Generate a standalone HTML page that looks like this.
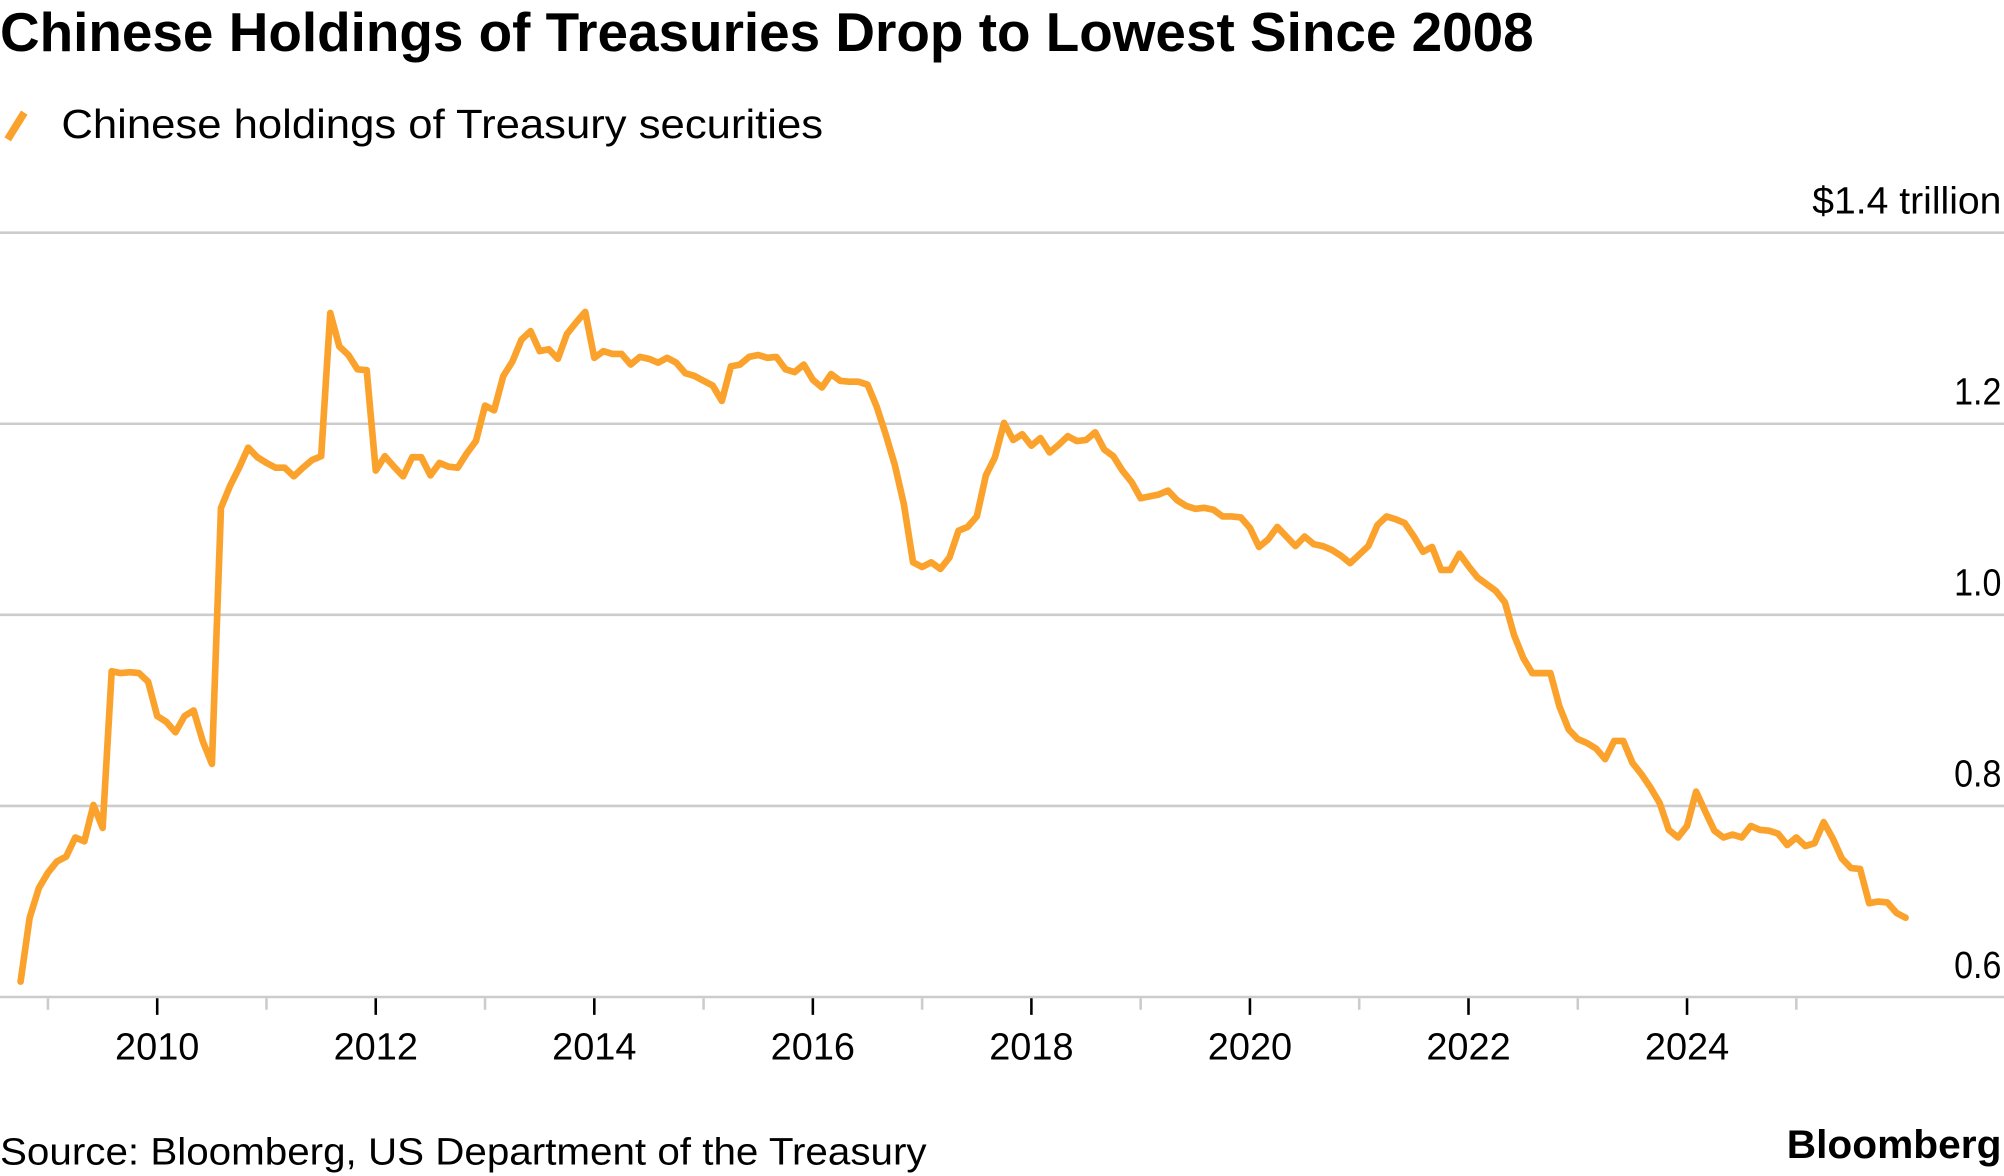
<!DOCTYPE html>
<html><head><meta charset="utf-8"><title>Chinese Holdings of Treasuries</title>
<style>html,body{margin:0;padding:0;background:#fff;}svg{display:block;}</style></head>
<body>
<svg id="chart" width="2004" height="1176" viewBox="0 0 1568 920" xmlns="http://www.w3.org/2000/svg" font-family="'Liberation Sans', sans-serif">
<text x="0" y="40" font-size="43" font-weight="bold" fill="#000" textLength="1200" lengthAdjust="spacingAndGlyphs">Chinese Holdings of Treasuries Drop to Lowest Since 2008</text>
<g>
<line x1="6" y1="109" x2="19" y2="88" stroke="#FBA22D" stroke-width="6"/>
<text x="48" y="108" font-size="32" fill="#000" textLength="596" lengthAdjust="spacingAndGlyphs">Chinese holdings of Treasury securities</text>
</g>
<g id="grid"></g>
<g id="yaxis"></g>
<g id="xaxis"></g>
<g id="series"></g>
<text x="0" y="911" font-size="30" fill="#000" textLength="725" lengthAdjust="spacingAndGlyphs">Source: Bloomberg, US Department of the Treasury</text>
<text x="1566" y="906" font-size="31" font-weight="bold" fill="#000" text-anchor="end" textLength="168" lengthAdjust="spacingAndGlyphs">Bloomberg</text>
</svg>
<script>
const startYear = 2008 + 9/12; // Oct 2008, monthly
const values = [0.616,0.683,0.714,0.730,0.742,0.747,0.767,0.763,0.801,0.777,0.941,0.939,0.940,0.939,0.930,0.894,0.888,0.877,0.894,0.900,0.868,0.844,1.112,1.135,1.154,1.175,1.165,1.159,1.154,1.154,1.145,1.154,1.162,1.166,1.316,1.281,1.272,1.257,1.256,1.151,1.166,1.155,1.145,1.165,1.165,1.146,1.159,1.155,1.154,1.169,1.182,1.219,1.214,1.250,1.265,1.288,1.297,1.276,1.278,1.268,1.294,1.306,1.317,1.269,1.276,1.273,1.273,1.262,1.270,1.268,1.264,1.269,1.264,1.253,1.250,1.245,1.240,1.224,1.260,1.262,1.270,1.272,1.269,1.270,1.257,1.254,1.262,1.246,1.238,1.252,1.245,1.244,1.244,1.241,1.218,1.189,1.157,1.116,1.055,1.050,1.055,1.048,1.060,1.088,1.092,1.103,1.146,1.165,1.201,1.183,1.189,1.177,1.185,1.170,1.178,1.187,1.182,1.183,1.191,1.173,1.166,1.151,1.139,1.122,1.124,1.126,1.130,1.120,1.114,1.111,1.112,1.110,1.103,1.103,1.102,1.091,1.071,1.079,1.092,1.082,1.072,1.082,1.074,1.072,1.068,1.062,1.054,1.063,1.072,1.094,1.103,1.100,1.096,1.082,1.066,1.071,1.047,1.047,1.064,1.051,1.039,1.032,1.025,1.013,0.979,0.955,0.939,0.939,0.939,0.904,0.880,0.870,0.866,0.860,0.849,0.868,0.868,0.845,0.833,0.819,0.803,0.775,0.767,0.779,0.815,0.794,0.774,0.767,0.770,0.767,0.779,0.775,0.774,0.771,0.759,0.767,0.758,0.761,0.783,0.766,0.745,0.735,0.734,0.698,0.700,0.699,0.688,0.683];
const yTicks = [0.6, 0.8, 1.0, 1.2, 1.4];
const yTickLabels = ["0.6", "0.8", "1.0", "1.2", "$1.4 trillion"];
const xTickYears = [2009,2010,2011,2012,2013,2014,2015,2016,2017,2018,2019,2020,2021,2022,2023,2024,2025];
const xLabelYears = [2010,2012,2014,2016,2018,2020,2022,2024];

const NS = "http://www.w3.org/2000/svg";
const xPx = yr => 123 + (yr - 2010) * 85.5;
const yPx = v => 780 - (v - 0.6) * 747.5;
function mk(tag, attrs, parent) {
  const el = document.createElementNS(NS, tag);
  for (const k in attrs) el.setAttribute(k, attrs[k]);
  parent.appendChild(el);
  return el;
}
const grid = document.getElementById('grid');
const yaxis = document.getElementById('yaxis');
const xaxis = document.getElementById('xaxis');
const series = document.getElementById('series');

yTicks.forEach((t, i) => {
  const y = yPx(t);
  const ln = mk('line', {x1: 0, x2: 1568, y1: y, y2: y, stroke: '#cccccc', 'stroke-width': 2}, grid);
  
  
  const lab = yTickLabels[i];
  const tx = mk('text', {x: 1566, y: y - 15, 'font-size': 30, 'text-anchor': 'end', fill: '#000', textLength: lab.length > 4 ? 148 : 37, lengthAdjust: 'spacingAndGlyphs'}, yaxis);
  tx.textContent = lab;
  
  
});

xTickYears.forEach(yr => {
  const x = xPx(yr);
  const major = xLabelYears.indexOf(yr) >= 0;
  const tk = mk('line', {x1: x, x2: x, y1: 781, y2: major ? 794 : 790, stroke: major ? '#000' : '#cccccc', 'stroke-width': 2}, xaxis);
  
  
});
xLabelYears.forEach(yr => {
  const tx = mk('text', {x: xPx(yr), y: 829, 'font-size': 30, 'text-anchor': 'middle', fill: '#000', textLength: 66, lengthAdjust: 'spacingAndGlyphs'}, xaxis);
  tx.textContent = String(yr);
  
  
});

const pts = values.map((v, i) => xPx(startYear + i / 12).toFixed(1) + ',' + yPx(v).toFixed(1)).join(' ');
const pl = mk('polyline', {points: pts, fill: 'none', stroke: '#FBA22D', 'stroke-width': 5.2, 'stroke-linejoin': 'round', 'stroke-linecap': 'round'}, series);


</script>
</body></html>
